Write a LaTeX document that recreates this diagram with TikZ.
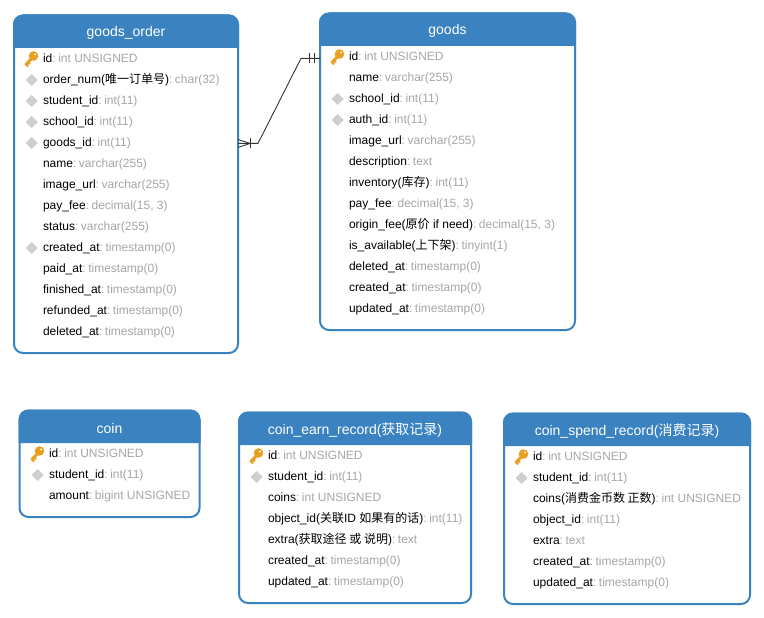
\documentclass[tikz,border=0pt]{standalone}
\usepackage{fontspec}
\usetikzlibrary{calc}
\setmainfont{Liberation Sans}
\newfontfamily\cjk{Noto Sans CJK SC}
\definecolor{erblue}{HTML}{3A83C0}
\definecolor{ergray}{HTML}{A6A6A6}
\definecolor{erkey}{HTML}{E8A020}
\definecolor{erdia}{HTML}{CFCFCF}
\definecolor{erline}{HTML}{333333}
\tikzset{
  tablebody/.style={draw=erblue,line width=2pt,fill=white,rounded corners=9pt,inner sep=0pt,outer sep=0pt,anchor=north west},
  tabletitle/.style={text=white,inner sep=0pt,font=\fontsize{14}{16}\selectfont},
  fieldrow/.style={anchor=west,inner sep=0pt,outer sep=0pt,text height=11pt,text depth=3pt,font=\fontsize{12}{14}\selectfont,text=black},
  diamondmark/.style={fill=erdia,draw=ergray!60,line width=.6pt},
  relline/.style={draw=erline,line width=.9pt},
}
% name, x0, y0, x1, y1, header bottom, title
\newcommand{\ertable}[7]{%
  \pgfmathsetmacro{\tw}{#4-#2}\pgfmathsetmacro{\th}{#5-#3}%
  \node[tablebody,minimum width=\tw pt,minimum height=\th pt] (#1) at (#2,#3) {};
  \fill[erblue] (#2-1,#6) [rounded corners=10pt] -- (#2-1,#3-1) -- (#4+1,#3-1) [sharp corners] -- (#4+1,#6) -- cycle;
  \node[tabletitle] (#1title) at ({(#2+#4)/2},{(#3+#6)/2+1.5}) {#7};
}
\newcommand{\fld}[5]{\node[fieldrow] (#1) at (#2,#3+.4) {#4\textcolor{ergray}{:\hspace{2.6pt}#5}};}
\newcommand{\dia}[2]{\fill[diamondmark] (#1-16.8,#2+1) -- (#1-11.3,#2-4.5) -- (#1-5.8,#2+1) -- (#1-11.3,#2+6.5) -- cycle;}
\newcommand{\keyi}[2]{%
  \begin{scope}[shift={(#1-12,#2)}]
    \draw[erkey,line width=3pt] (-5.5,7) -- (1.5,-.5);
    \draw[erkey,line width=2pt] (-5,6.5) -- (-2.8,8.4);
    \draw[erkey,line width=2pt] (-3,4.5) -- (-1,6.2);
    \fill[erkey] (2.5,-2) circle[radius=4.8];
    \fill[white] (4,-3.6) circle[radius=1.1];
  \end{scope}}
\begin{document}
\begin{tikzpicture}[x=1pt,y=-1pt]
\useasboundingbox (0,0) rectangle (764,618);
\ertable{goodsorder}{14}{15.5}{238}{353}{48}{goods\_order}
\keyi{43}{58}\fld{oa}{43}{58}{id}{int UNSIGNED}
\dia{43}{79}\fld{ob}{43}{79}{order\_num({\cjk 唯一订单号})}{char(32)}
\dia{43}{100}\fld{oc}{43}{100}{student\_id}{int(11)}
\dia{43}{121}\fld{od}{43}{121}{school\_id}{int(11)}
\dia{43}{142}\fld{oe}{43}{142}{goods\_id}{int(11)}
\fld{of}{43}{163}{name}{varchar(255)}
\fld{og}{43}{184}{image\_url}{varchar(255)}
\fld{oh}{43}{205}{pay\_fee}{decimal(15, 3)}
\fld{oi}{43}{226}{status}{varchar(255)}
\dia{43}{247}\fld{oj}{43}{247}{created\_at}{timestamp(0)}
\fld{ok}{43}{268}{paid\_at}{timestamp(0)}
\fld{ol}{43}{289}{finished\_at}{timestamp(0)}
\fld{om}{43}{310}{refunded\_at}{timestamp(0)}
\fld{on}{43}{331}{deleted\_at}{timestamp(0)}
\ertable{goods}{320}{13.5}{575}{330}{46}{goods}
\keyi{349}{56}\fld{ga}{349}{56}{id}{int UNSIGNED}
\fld{gb}{349}{77}{name}{varchar(255)}
\dia{349}{98}\fld{gc}{349}{98}{school\_id}{int(11)}
\dia{349}{119}\fld{gd}{349}{119}{auth\_id}{int(11)}
\fld{ge}{349}{140}{image\_url}{varchar(255)}
\fld{gf}{349}{161}{description}{text}
\fld{gg}{349}{182}{inventory({\cjk 库存})}{int(11)}
\fld{gh}{349}{203}{pay\_fee}{decimal(15, 3)}
\fld{gi}{349}{224}{origin\_fee({\cjk 原价} if need)}{decimal(15, 3)}
\fld{gj}{349}{245}{is\_available({\cjk 上下架})}{tinyint(1)}
\fld{gk}{349}{266}{deleted\_at}{timestamp(0)}
\fld{gl}{349}{287}{created\_at}{timestamp(0)}
\fld{gm}{349}{308}{updated\_at}{timestamp(0)}
\ertable{coin}{19.5}{410.5}{199.5}{517}{443}{coin}
\keyi{49}{453}\fld{ca}{49}{453}{id}{int UNSIGNED}
\dia{49}{474}\fld{cb}{49}{474}{student\_id}{int(11)}
\fld{cc}{49}{495}{amount}{bigint UNSIGNED}
\ertable{earn}{239}{412.5}{471}{603}{445}{coin\_earn\_record({\cjk 获取记录})}
\keyi{268}{455}\fld{ea}{268}{455}{id}{int UNSIGNED}
\dia{268}{476}\fld{eb}{268}{476}{student\_id}{int(11)}
\fld{ec}{268}{497}{coins}{int UNSIGNED}
\fld{ed}{268}{518}{object\_id({\cjk 关联}ID {\cjk 如果有的话})}{int(11)}
\fld{ee}{268}{539}{extra({\cjk 获取途径 或 说明})}{text}
\fld{ef}{268}{560}{created\_at}{timestamp(0)}
\fld{eg}{268}{581}{updated\_at}{timestamp(0)}
\ertable{spend}{504}{413.5}{750}{604}{446}{coin\_spend\_record({\cjk 消费记录})}
\keyi{533}{456}\fld{sa}{533}{456}{id}{int UNSIGNED}
\dia{533}{477}\fld{sb}{533}{477}{student\_id}{int(11)}
\fld{sc}{533}{498}{coins({\cjk 消费金币数 正数})}{int UNSIGNED}
\fld{sd}{533}{519}{object\_id}{int(11)}
\fld{se}{533}{540}{extra}{text}
\fld{sf}{533}{561}{created\_at}{timestamp(0)}
\fld{sg}{533}{582}{updated\_at}{timestamp(0)}
% relation
\coordinate (relA) at ($(goodsorder.east |- oe.west)+(0,1)$);
\coordinate (relB) at ($(goods.west |- ga.west)+(0,2)$);
\draw[relline] (relA) -- ++(20,0) -- ($(relB)+(-19,0)$) -- (relB);
\draw[relline] (relA) ++(0,-4) -- ++(12,4) -- ++(-12,4);
\draw[relline] (relA) ++(12,-5) -- ++(0,10);
\draw[relline] (relB) ++(-11,-5) -- ++(0,10);
\draw[relline] (relB) ++(-6,-5) -- ++(0,10);
\end{tikzpicture}
\end{document}
